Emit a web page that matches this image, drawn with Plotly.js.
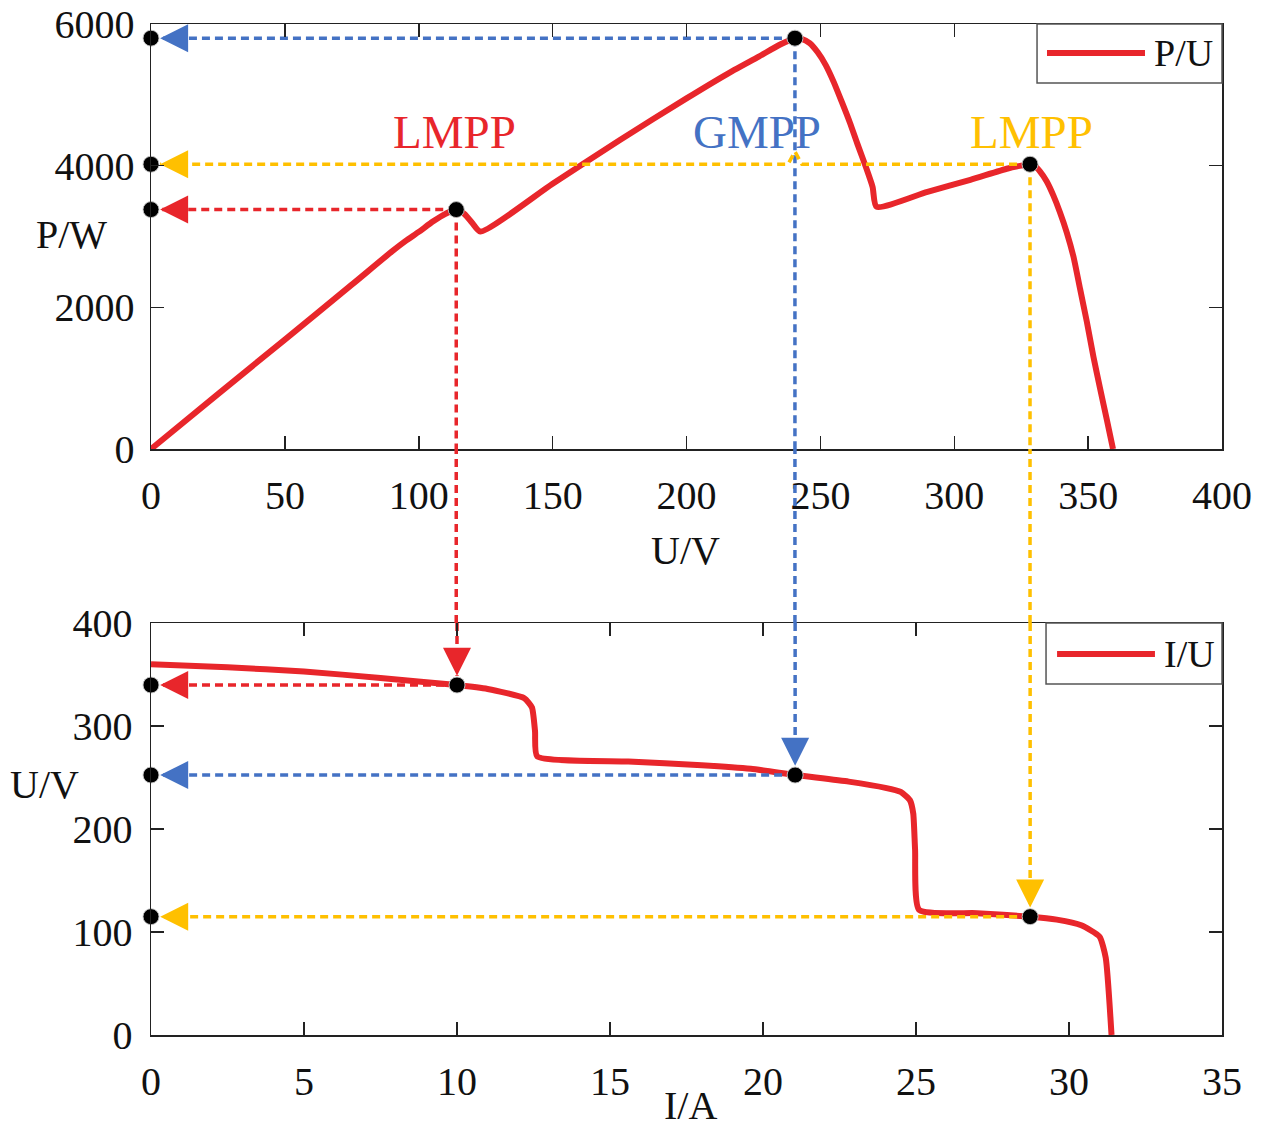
<!DOCTYPE html>
<html>
<head>
<meta charset="utf-8">
<script src="https://cdn.plot.ly/plotly-3.0.1.min.js"></script>
<style>
html, body { margin: 0; padding: 0; background: #ffffff; }
#chart { width: 1261px; height: 1131px; }
</style>
</head>
<body>
<div id="chart"></div>
<script>
// ---------- DATA ----------
// P-U characteristic (top): voltage U/V and power P/W
const puVoltage = [0, 25, 50, 75, 90, 95, 100, 105.4, 110, 114, 117, 120, 123, 150, 175, 200, 215, 227, 235, 240.5, 243, 246, 249, 252, 255, 258, 261, 264, 267, 269.5, 271, 290, 306, 320, 325, 328.3, 330, 332, 334.5, 337, 339.5, 342, 344.5, 347, 349.5, 352, 354.5, 357, 359.3];
const puPower   = [0, 775, 1545, 2320, 2790, 2935, 3065, 3214, 3320, 3380, 3320, 3190, 3070, 3745, 4360, 4950, 5290, 5540, 5710, 5800, 5790, 5730, 5600, 5420, 5180, 4900, 4610, 4290, 3980, 3700, 3420, 3630, 3800, 3960, 4000, 4020, 4000, 3920, 3780, 3580, 3340, 3060, 2720, 2260, 1800, 1300, 850, 410, 0];

// I-U characteristic (bottom): current I/A and voltage U/V
const iuCurrent = [0, 2.5, 5, 7.5, 10, 11, 12.2, 12.45, 12.55, 12.62, 15.6, 18, 19.6, 21.05, 22.8, 24.0, 24.5, 24.8, 24.91, 24.97, 25.1, 27, 28.73, 29.6, 30.4, 31.0, 31.2, 31.39];
const iuVoltage = [360, 357, 353, 346.6, 339.8, 336, 327, 318, 295, 270.5, 265.5, 262, 258.5, 252.4, 246, 240, 236, 228, 215, 180, 121.5, 118.3, 114.9, 112, 106.5, 95.4, 75, 0];

// Maximum power points: LMPP, GMPP, LMPP
const mppLabels     = ['LMPP', 'GMPP', 'LMPP'];
const mppVoltage    = [114, 240.5, 328.3];   // U on the P-U curve
const mppPower      = [3380, 5800, 4020];    // P on the P-U curve
const mppCurrent    = [10, 21.05, 28.73];    // I on the I-U curve
const mppVoltageIU  = [339.8, 252.4, 114.9]; // U on the I-U curve

// Tick values
const xTicksTop = [0, 50, 100, 150, 200, 250, 300, 350, 400];
const yTicksTop = [0, 2000, 4000, 6000];
const xTicksBot = [0, 5, 10, 15, 20, 25, 30, 35];
const yTicksBot = [0, 100, 200, 300, 400];

// ---------- STYLE ----------
const RED = '#E8262B', BLUE = '#4472C4', YELLOW = '#FFC000';
const guideColors = [RED, BLUE, YELLOW];
const FONT = 'Liberation Serif, Times New Roman, serif';
const TOP_DOM = [0.5796, 1];
const BOT_DOM = [0, 0.4075];
const TIP_U = 3.4, TIP_I = 0.3, DOWN_TIP = 9, BUMP_W = 2.6, BUMP_H = 180;
const DASH = '8px,5px';
const GW = 3.5;

const traces = [];
const shapes = [];

// main curves
traces.push({x: puVoltage, y: puPower, xaxis: 'x', yaxis: 'y', mode: 'lines', name: 'P/U',
  line: {color: RED, width: 6, shape: 'spline', smoothing: 0.6}, showlegend: false, hoverinfo: 'skip'});
traces.push({x: iuCurrent, y: iuVoltage, xaxis: 'x2', yaxis: 'y2', mode: 'lines', name: 'I/U',
  line: {color: RED, width: 6, shape: 'spline', smoothing: 0.5}, showlegend: false, hoverinfo: 'skip'});

for (let k = 0; k < 3; k++) {
  const c = guideColors[k];
  const U = mppVoltage[k], P = mppPower[k], I = mppCurrent[k], V = mppVoltageIU[k];
  // top horizontal guide (yellow hops over the GMPP vertical)
  let hx = [U], hy = [P];
  if (k === 2) {
    const G = mppVoltage[1];
    hx.push(G + BUMP_W, G, G - BUMP_W); hy.push(P, P + BUMP_H, P);
  }
  hx.push(TIP_U); hy.push(P);
  traces.push({x: hx, y: hy, xaxis: 'x', yaxis: 'y', mode: 'lines', showlegend: false, hoverinfo: 'skip',
    line: {color: c, width: GW, dash: DASH}});
  // top vertical guide
  traces.push({x: [U, U], y: [P, 0], xaxis: 'x', yaxis: 'y', mode: 'lines', showlegend: false, hoverinfo: 'skip',
    line: {color: c, width: GW, dash: DASH}});
  // gap between the two panels
  shapes.push({type: 'line', xref: 'x', yref: 'paper', x0: U, x1: U, y0: BOT_DOM[1], y1: TOP_DOM[0],
    line: {color: c, width: GW, dash: DASH}, layer: 'above'});
  // bottom vertical guide
  traces.push({x: [I, I], y: [400, V + DOWN_TIP], xaxis: 'x2', yaxis: 'y2', mode: 'lines', showlegend: false, hoverinfo: 'skip',
    line: {color: c, width: GW, dash: DASH}});
  // bottom horizontal guide
  traces.push({x: [I, TIP_I], y: [V, V], xaxis: 'x2', yaxis: 'y2', mode: 'lines', showlegend: false, hoverinfo: 'skip',
    line: {color: c, width: GW, dash: DASH}});
  // arrow heads
  traces.push({x: [TIP_U], y: [P], xaxis: 'x', yaxis: 'y', mode: 'markers', showlegend: false, hoverinfo: 'skip', cliponaxis: false,
    marker: {symbol: 'arrow-left', size: 28, color: c, line: {width: 0}}});
  traces.push({x: [TIP_I], y: [V], xaxis: 'x2', yaxis: 'y2', mode: 'markers', showlegend: false, hoverinfo: 'skip', cliponaxis: false,
    marker: {symbol: 'arrow-left', size: 28, color: c, line: {width: 0}}});
  traces.push({x: [I], y: [V + DOWN_TIP], xaxis: 'x2', yaxis: 'y2', mode: 'markers', showlegend: false, hoverinfo: 'skip', cliponaxis: false,
    marker: {symbol: 'arrow-down', size: 28, color: c, line: {width: 0}}});
}

// black points: on curves and on the y axes
const dot = {symbol: 'circle', size: 16, color: '#000', line: {color: 'rgba(200,200,200,0.9)', width: 1}};
traces.push({x: mppVoltage, y: mppPower, xaxis: 'x', yaxis: 'y', mode: 'markers', marker: dot, cliponaxis: false, showlegend: false, hoverinfo: 'skip'});
traces.push({x: mppVoltage.map(() => 0), y: mppPower, xaxis: 'x', yaxis: 'y', mode: 'markers', marker: dot, cliponaxis: false, showlegend: false, hoverinfo: 'skip'});
traces.push({x: mppCurrent, y: mppVoltageIU, xaxis: 'x2', yaxis: 'y2', mode: 'markers', marker: dot, cliponaxis: false, showlegend: false, hoverinfo: 'skip'});
traces.push({x: mppCurrent.map(() => 0), y: mppVoltageIU, xaxis: 'x2', yaxis: 'y2', mode: 'markers', marker: dot, cliponaxis: false, showlegend: false, hoverinfo: 'skip'});

// ---------- LEGENDS (drawn as boxes) ----------
shapes.push({type: 'rect', xref: 'x domain', yref: 'y domain', x0: 0.8273, x1: 1, y0: 0.8612, y1: 1,
  line: {color: '#555', width: 1.5}, fillcolor: '#fff', layer: 'above'});
shapes.push({type: 'line', xref: 'x domain', yref: 'y domain', x0: 0.8366, x1: 0.9281, y0: 0.9318, y1: 0.9318,
  line: {color: RED, width: 6}, layer: 'above'});
shapes.push({type: 'rect', xref: 'x2 domain', yref: 'y2 domain', x0: 0.8357, x1: 1, y0: 0.852, y1: 1,
  line: {color: '#555', width: 1.5}, fillcolor: '#fff', layer: 'above'});
shapes.push({type: 'line', xref: 'x2 domain', yref: 'y2 domain', x0: 0.846, x1: 0.9374, y0: 0.9248, y1: 0.9248,
  line: {color: RED, width: 6}, layer: 'above'});

const annotations = [
  {xref: 'x domain', yref: 'y domain', x: 0.9346, y: 0.9318, xanchor: 'left', yanchor: 'middle', text: 'P/U', showarrow: false,
   font: {family: FONT, size: 38, color: '#111'}},
  {xref: 'x2 domain', yref: 'y2 domain', x: 0.944, y: 0.9248, xanchor: 'left', yanchor: 'middle', text: 'I/U', showarrow: false,
   font: {family: FONT, size: 38, color: '#111'}},
  // axis titles
  {xref: 'paper', yref: 'paper', x: -0.0738, y: 0.7913, text: 'P/W', showarrow: false, xanchor: 'center', yanchor: 'middle',
   font: {family: FONT, size: 40, color: '#111'}},
  {xref: 'paper', yref: 'paper', x: 0.4995, y: 0.4797, text: 'U/V', showarrow: false, xanchor: 'center', yanchor: 'middle',
   font: {family: FONT, size: 40, color: '#111'}},
  {xref: 'paper', yref: 'paper', x: -0.099, y: 0.2473, text: 'U/V', showarrow: false, xanchor: 'center', yanchor: 'middle',
   font: {family: FONT, size: 40, color: '#111'}},
  {xref: 'paper', yref: 'paper', x: 0.504, y: -0.0935, text: 'I/A', showarrow: false, xanchor: 'center', yanchor: 'bottom',
   font: {family: FONT, size: 40, color: '#111'}}
];
// MPP labels
const labelU = [113.5, 226.3, 329];
const labelP = [4480, 4480, 4470];
for (let k = 0; k < 3; k++) {
  annotations.push({xref: 'x', yref: 'y', x: labelU[k], y: labelP[k], text: mppLabels[k], showarrow: false,
    xanchor: 'center', yanchor: 'middle', font: {family: FONT, size: 47, color: guideColors[k]}});
}

const axisCommon = {
  showline: true, mirror: 'ticks', linecolor: '#222', linewidth: 1.5,
  ticks: 'inside', ticklen: 13, tickwidth: 1.5, tickcolor: '#222',
  showgrid: false, zeroline: false, fixedrange: true,
  tickfont: {family: FONT, size: 40, color: '#111'}
};

const layout = {
  width: 1261, height: 1131,
  margin: {l: 151, r: 39, t: 24, b: 96, pad: 0},
  paper_bgcolor: '#fff', plot_bgcolor: '#fff',
  showlegend: false,
  xaxis: Object.assign({}, axisCommon, {domain: [0, 1], range: [0, 400], tickvals: xTicksTop, anchor: 'y', ticklabelstandoff: 10}),
  yaxis: Object.assign({}, axisCommon, {domain: TOP_DOM, range: [0, 6000], tickvals: yTicksTop, anchor: 'x', ticklabelstandoff: 7}),
  xaxis2: Object.assign({}, axisCommon, {domain: [0, 1], range: [0, 35], tickvals: xTicksBot, anchor: 'y2', ticklabelstandoff: 10}),
  yaxis2: Object.assign({}, axisCommon, {domain: BOT_DOM, range: [0, 400], tickvals: yTicksBot, anchor: 'x2', ticklabelstandoff: 9}),
  shapes: shapes,
  annotations: annotations
};

Plotly.newPlot('chart', traces, layout, {displayModeBar: false, staticPlot: true});
</script>
</body>
</html>
